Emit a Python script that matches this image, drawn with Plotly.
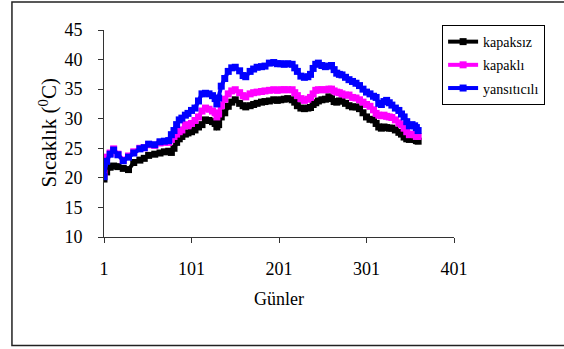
import plotly.graph_objects as go

days = [1, 4, 8, 12, 17, 23, 29, 35, 42, 47, 52, 59, 65, 70, 75, 78, 81, 84, 87, 90,
        94, 97, 101, 105, 109, 113, 117, 121, 125, 128, 130, 132, 135, 139, 143, 147, 151, 156, 160, 163,
        168, 172, 176, 181, 185, 190, 195, 199, 203, 207, 211, 216, 219, 222, 226, 230, 234, 237, 240, 243,
        246, 250, 254, 258, 261, 264, 267, 270, 273, 277, 281, 285, 289, 293, 297, 301, 305, 309, 312, 315,
        318, 321, 324, 327, 330, 334, 338, 341, 344, 347, 350, 353, 356, 358, 360]

yansiticili = [20.2, 22.8, 24.0, 24.7, 23.9, 22.9, 23.5, 24.2, 24.9, 25.1, 25.7, 25.6, 26.1, 26.2, 26.3, 27.3, 28.0, 29.0, 29.8, 30.1,
               30.6, 30.9, 31.4, 31.8, 33.0, 34.2, 34.3, 34.2, 33.9, 33.4, 32.5, 33.5, 35.5, 36.8, 38.0, 38.6, 38.7, 38.1, 37.3, 37.1,
               38.0, 38.4, 38.7, 38.8, 38.9, 39.4, 39.5, 39.3, 39.3, 39.2, 39.3, 39.2, 38.6, 38.0, 37.2, 37.0, 37.1, 37.5, 38.5, 39.2,
               39.4, 39.0, 38.8, 38.9, 39.0, 38.3, 37.7, 37.5, 37.4, 37.0, 36.6, 36.3, 36.0, 35.6, 35.0, 34.5, 34.2, 33.8, 33.6, 32.6,
               32.4, 32.9, 33.1, 32.7, 32.3, 31.8, 31.4, 30.8, 30.3, 29.5, 28.8, 29.0, 28.8, 28.5, 28.0]

kapakli = [20.8, 23.5, 24.2, 24.9, 24.0, 23.0, 23.7, 24.4, 25.0, 25.1, 25.6, 25.5, 25.9, 26.0, 26.0, 26.5, 27.0, 27.4, 27.8, 28.1,
           29.0, 28.8, 29.2, 29.7, 30.3, 31.3, 31.8, 31.6, 31.3, 31.0, 30.3, 30.8, 32.2, 33.3, 34.2, 34.7, 34.9, 34.4, 33.9, 33.7,
           34.2, 34.4, 34.5, 34.6, 34.7, 34.8, 34.9, 34.8, 34.9, 34.9, 34.9, 34.9, 34.4, 33.9, 33.4, 33.1, 33.3, 33.6, 34.2, 34.8,
           34.9, 34.9, 34.9, 35.0, 35.0, 34.7, 34.5, 34.4, 34.2, 34.0, 34.0, 33.6, 33.5, 33.2, 32.8, 32.4, 32.1, 31.5, 30.9, 30.6,
           30.5, 30.6, 30.4, 30.3, 30.2, 29.8, 29.3, 29.0, 28.4, 27.8, 27.3, 27.4, 27.3, 27.0, 27.0]

kapaksiz = [19.8, 21.0, 21.8, 22.0, 21.9, 21.6, 21.4, 22.6, 23.0, 23.3, 23.8, 24.0, 24.2, 24.4, 24.5, 24.3, 25.0, 26.0, 26.6, 27.0,
            27.4, 27.6, 27.8, 28.1, 28.6, 29.0, 29.8, 29.7, 29.5, 29.2, 28.6, 29.0, 30.3, 31.0, 32.1, 32.8, 33.2, 32.6, 32.2, 32.0,
            32.2, 32.4, 32.6, 32.8, 32.9, 33.0, 33.2, 33.1, 33.2, 33.3, 33.4, 33.2, 32.8, 32.2, 31.8, 31.7, 31.8, 31.9, 32.4, 32.7,
            33.0, 33.2, 33.3, 33.7, 33.4, 32.9, 32.8, 33.0, 33.0, 32.6, 32.2, 32.0, 32.0, 31.7, 31.0, 30.3, 29.9, 29.8, 29.2, 28.6,
            28.4, 28.6, 28.5, 28.4, 28.4, 28.1, 27.7, 27.4, 26.9, 26.6, 26.5, 26.6, 26.5, 26.3, 26.2]

series_names = ["kapaksız", "kapaklı", "yansıtıcılı"]
series_values = [kapaksiz, kapakli, yansiticili]
series_colors = ["#000000", "#FF00FF", "#0000FF"]

x_ticks = [1, 101, 201, 301, 401]
y_ticks = [10, 15, 20, 25, 30, 35, 40, 45]

x_title = "Günler"
y_title = "Sıcaklık (<sup>0</sup>C)"

FONT = "Liberation Serif, Times New Roman, serif"

fig = go.Figure()
for name, vals, col in zip(series_names, series_values, series_colors):
    fig.add_trace(go.Scatter(
        x=days, y=vals, name=name, mode="lines+markers",
        line=dict(color=col, width=4),
        marker=dict(symbol="square", size=7, color=col),
        legendgroup=name,
    ))

fig.update_layout(
    width=564, height=349,
    margin=dict(l=104, r=110, t=30, b=112, autoexpand=False),
    paper_bgcolor="white", plot_bgcolor="white",
    font=dict(family=FONT, size=18, color="black"),
    showlegend=True,
    legend=dict(
        x=0.966, y=1.024, xanchor="left", yanchor="top",
        bordercolor="black", borderwidth=1, bgcolor="white",
        font=dict(family=FONT, size=14, color="black"),
        traceorder="grouped", tracegroupgap=2,
    ),
    xaxis=dict(
        range=[1, 401], tickvals=x_ticks, ticktext=[str(v) for v in x_ticks],
        showgrid=False, zeroline=False, showline=True, linecolor="#333333", linewidth=1,
        ticks="outside", ticklen=5, tickcolor="#333333",
        ticklabelstandoff=10, automargin=False,
        title=dict(text=x_title, standoff=14, font=dict(size=18)),
    ),
    yaxis=dict(
        range=[10, 45], tickvals=y_ticks,
        showgrid=False, zeroline=False, showline=True, linecolor="#333333", linewidth=1,
        ticks="outside", ticklen=5, tickcolor="#333333",
        ticklabelstandoff=12, automargin=False,
    ),
    annotations=[dict(
        text=y_title, textangle=-90, xref="paper", yref="paper",
        x=-0.16, y=0.5, xanchor="center", yanchor="middle", showarrow=False,
        font=dict(family=FONT, size=21, color="black"),
    )],
    shapes=[dict(
        type="rect", xref="paper", yref="paper",
        x0=-0.263, x1=1.6, y0=-0.524, y1=1.135,
        line=dict(color="#222222", width=1.5), fillcolor="rgba(0,0,0,0)", layer="below",
    )],
)

fig.write_html("out.html", config={"displayModeBar": False},
               post_script="document.body.style.margin='0';")
